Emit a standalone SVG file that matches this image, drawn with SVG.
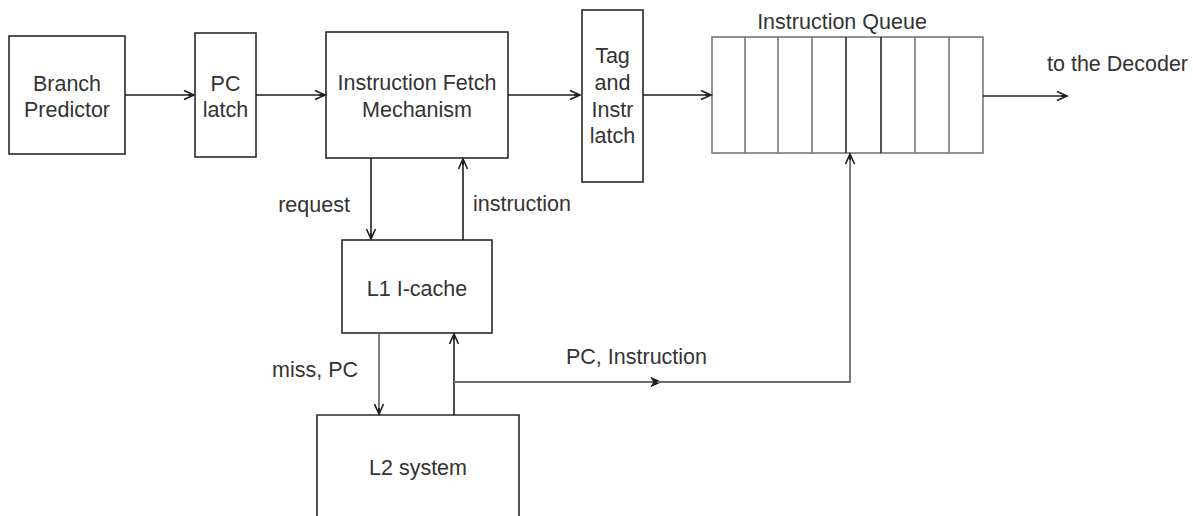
<svg xmlns="http://www.w3.org/2000/svg" width="1193" height="516" viewBox="0 0 1193 516">
<style>
  .box { fill: #ffffff; stroke: #2a2a2a; stroke-width: 1.6; }
  .cell { stroke: #777777; stroke-width: 1.6; fill: none; }
  .cellDark { stroke: #2a2a2a; stroke-width: 1.6; fill: none; }
  .lbl { font-family: "Liberation Sans", Arial, sans-serif; font-size: 21.5px; fill: #333333; text-anchor: middle; }
  .lblL { font-family: "Liberation Sans", Arial, sans-serif; font-size: 21.5px; fill: #333333; text-anchor: start; }
  .wire { fill: none; stroke: #1e1e1e; stroke-width: 1.6; }
  .wireG { fill: none; stroke: #6e6e6e; stroke-width: 1.8; }
</style>
<defs>
  <marker id="arr" markerWidth="14" markerHeight="12" refX="11" refY="6" orient="auto" markerUnits="userSpaceOnUse">
    <path d="M1,1.5 L11,6 L1,10.5 M11,6 L5,6" fill="none" stroke="#1e1e1e" stroke-width="1.6"/>
  </marker>
  <marker id="mid" markerWidth="14" markerHeight="12" refX="7" refY="6" orient="auto" markerUnits="userSpaceOnUse">
    <path d="M1,1.5 L11,6 L1,10.5 L4,6 Z" fill="#1e1e1e" stroke="#1e1e1e" stroke-width="1"/>
  </marker>
</defs>
<rect width="1193" height="516" fill="#ffffff"/>

<g id="branch-predictor">
  <rect class="box" x="9" y="36" width="116" height="118"/>
  <text class="lbl" x="67" y="91">Branch</text>
  <text class="lbl" x="67" y="117">Predictor</text>
</g>
<g id="pc-latch">
  <rect class="box" x="195" y="33" width="61" height="124"/>
  <text class="lbl" x="225.5" y="91">PC</text>
  <text class="lbl" x="225.5" y="117">latch</text>
</g>
<g id="fetch">
  <rect class="box" x="326" y="32" width="182" height="126"/>
  <text class="lbl" x="417" y="90">Instruction Fetch</text>
  <text class="lbl" x="417" y="117">Mechanism</text>
</g>
<g id="tag-latch">
  <rect class="box" x="582" y="10" width="61" height="172"/>
  <text class="lbl" x="612.5" y="63">Tag</text>
  <text class="lbl" x="612.5" y="90">and</text>
  <text class="lbl" x="612.5" y="117">Instr</text>
  <text class="lbl" x="612.5" y="143">latch</text>
</g>
<g id="instruction-queue">
  <rect x="712" y="37" width="271" height="116" fill="#ffffff" stroke="#777777" stroke-width="1.6"/>
  <line class="cell" x1="745" y1="37" x2="745" y2="153"/>
  <line class="cell" x1="778" y1="37" x2="778" y2="153"/>
  <line class="cell" x1="812" y1="37" x2="812" y2="153"/>
  <line class="cellDark" x1="846" y1="37" x2="846" y2="153"/>
  <line class="cellDark" x1="881" y1="37" x2="881" y2="153"/>
  <line class="cell" x1="915" y1="37" x2="915" y2="153"/>
  <line class="cell" x1="949" y1="37" x2="949" y2="153"/>
  <text class="lbl" x="842" y="29">Instruction Queue</text>
</g>
<g id="l1-icache">
  <rect class="box" x="342" y="240" width="150" height="93"/>
  <text class="lbl" x="417" y="296">L1 I-cache</text>
</g>
<g id="l2-system">
  <path class="box" d="M317,520 L317,415 L519,415 L519,520"/>
  <text class="lbl" x="418" y="475">L2 system</text>
</g>

<g id="connectors">
  <line class="wire" x1="125" y1="95" x2="194" y2="95" marker-end="url(#arr)"/>
  <line class="wire" x1="256" y1="95" x2="325" y2="95" marker-end="url(#arr)"/>
  <line class="wire" x1="508" y1="95" x2="580" y2="95" marker-end="url(#arr)"/>
  <line class="wire" x1="643" y1="95" x2="711" y2="95" marker-end="url(#arr)"/>
  <line class="wire" x1="983" y1="96" x2="1067" y2="96" marker-end="url(#arr)"/>
  <line class="wire" x1="371" y1="158" x2="371" y2="239" marker-end="url(#arr)"/>
  <line class="wire" x1="463" y1="240" x2="463" y2="159" marker-end="url(#arr)"/>
  <line class="wireG" x1="379" y1="333" x2="379" y2="414" marker-end="url(#arr)"/>
  <line class="wire" x1="454" y1="415" x2="454" y2="334" marker-end="url(#arr)"/>
  <path class="wireG" d="M454,382 L657,382" marker-end="url(#mid)"/>
  <path class="wireG" d="M657,382 L850,382 L850,154" marker-end="url(#arr)"/>
  <text class="lbl" x="314" y="212">request</text>
  <text class="lblL" x="473" y="211">instruction</text>
  <text class="lblL" x="272" y="377">miss, PC</text>
  <text class="lblL" x="566" y="364">PC, Instruction</text>
  <text class="lblL" x="1047" y="71">to the Decoder</text>
</g>
</svg>
